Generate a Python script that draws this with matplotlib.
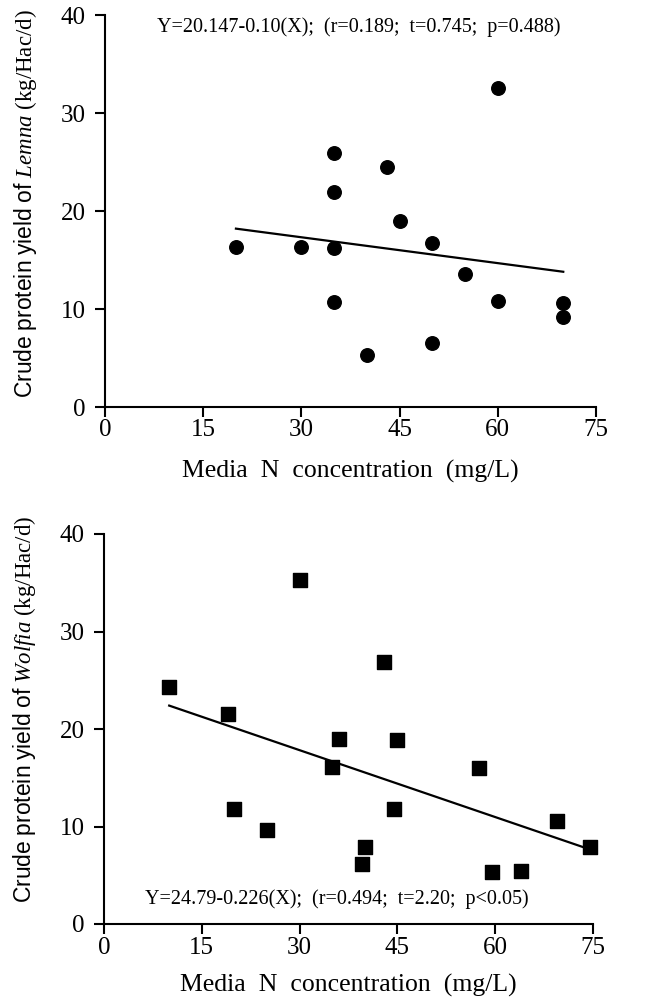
import matplotlib
matplotlib.use("Agg")
import matplotlib.pyplot as plt

plt.rcParams['font.family'] = ['Liberation Serif', 'DejaVu Serif']
plt.rcParams['mathtext.fontset'] = 'custom'
plt.rcParams['mathtext.rm'] = 'Liberation Serif'
plt.rcParams['mathtext.it'] = 'Liberation Serif:italic'
plt.rcParams['mathtext.sf'] = 'Liberation Sans'

# Lemna data
lemna_x = [20, 30, 35, 35, 35, 35, 40, 43, 45, 50, 50, 55, 60, 60, 70, 70]
lemna_y = [16.3, 16.3, 16.2, 25.9, 21.9, 10.7, 5.3, 24.5, 19.0, 16.7, 6.5, 13.6, 32.6, 10.8, 10.6, 9.2]
lemna_line_x = [20, 70]
lemna_line_y = [18.2, 13.8]
lemna_eq = "Y=20.147-0.10(X);  (r=0.189;  t=0.745;  p=0.488)"

# Wolfia data
wolfia_x = [10, 19, 20, 25, 30, 36, 35, 40, 39.5, 43, 45, 44.5, 57.5, 59.5, 64, 69.5, 74.5]
wolfia_y = [24.3, 21.5, 11.8, 9.6, 35.3, 19.0, 16.1, 7.9, 6.2, 26.9, 18.9, 11.8, 16.0, 5.3, 5.4, 10.6, 7.9]
wolfia_line_x = [10, 74.3]
wolfia_line_y = [22.4, 7.7]
wolfia_eq = "Y=24.79-0.226(X);  (r=0.494;  t=2.20;  p<0.05)"

xticks = [0, 15, 30, 45, 60, 75]
yticks = [0, 10, 20, 30, 40]
xlabel = "Media  N  concentration  (mg/L)"

fig = plt.figure(figsize=(6.45, 10.08), dpi=100)
W, H = 645, 1008

def make_ax(l, r, b, t):
    return fig.add_axes([l / W, 1 - b / H, (r - l) / W, (b - t) / H])

ax1 = make_ax(105, 596, 407, 15)
ax2 = make_ax(104, 593, 924, 534)

def style(ax, species, ylab_y, xpad):
    ax.set_xlim(0, 75)
    ax.set_ylim(0, 40)
    ax.set_xticks(xticks)
    ax.set_yticks(yticks)
    for s in ['top', 'right']:
        ax.spines[s].set_visible(False)
    for s in ['left', 'bottom']:
        ax.spines[s].set_linewidth(1.5)
    ax.tick_params(axis='both', direction='out', length=7, width=1.5, labelsize=18)
    ax.tick_params(axis='y', pad=7)
    ax.tick_params(axis='x', pad=2)
    ax.set_xlabel(xlabel, fontsize=18.5, labelpad=xpad)
    ax.set_ylabel(r"$\mathsf{Crude\ protein\ yield\ of}$ $\mathit{" + species + r"}$ (kg/Hac/d)",
                  fontsize=16.5)
    ax.yaxis.set_label_coords(-0.135, ylab_y)

ax1.plot(lemna_line_x, lemna_line_y, color='black', lw=1.6)
ax1.scatter(lemna_x, lemna_y, s=95, marker='o', color='black', clip_on=False, zorder=3)
ax1.text(38.8, 38.8, lemna_eq, fontsize=14.5, ha='center', va='center')
style(ax1, 'Lemna', 0.52, 13)

ax2.plot(wolfia_line_x, wolfia_line_y, color='black', lw=1.6)
ax2.scatter(wolfia_x, wolfia_y, s=95, marker='s', color='black', clip_on=False, zorder=3)
ax2.text(35.7, 2.5, wolfia_eq, fontsize=14.5, ha='center', va='center')
style(ax2, 'Wolfia', 0.55, 11)

fig.savefig("out.png", dpi=100)
